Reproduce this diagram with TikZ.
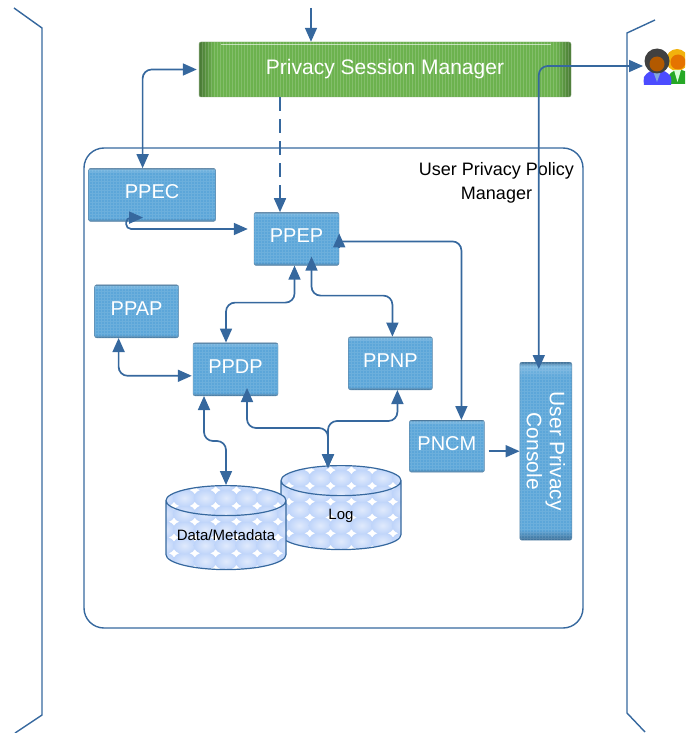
\documentclass[tikz,border=0pt]{standalone}
\usepackage{fontspec}
\setmainfont{Liberation Sans}
\usepackage{xcolor}
\usepackage{tikz}
\usetikzlibrary{positioning,arrows.meta,shapes.geometric}

\definecolor{linkblue}{RGB}{54,104,158}
\definecolor{boxblue}{RGB}{92,166,217}
\definecolor{boxdark}{RGB}{60,110,150}
\definecolor{boxlight}{RGB}{125,185,225}
\definecolor{psmgreen}{RGB}{108,178,78}
\definecolor{psmdark}{RGB}{72,120,52}
\definecolor{bubbleblue}{RGB}{190,212,250}
\definecolor{bubblelight}{RGB}{224,234,252}

\pgfdeclarehorizontalshading{psmshade}{100bp}{color(0bp)=(psmdark); color(25bp)=(psmdark);
  color(27bp)=(psmgreen); color(73bp)=(psmgreen); color(75bp)=(psmdark); color(100bp)=(psmdark)}
\pgfdeclareverticalshading{boxshade}{100bp}{color(0bp)=(boxdark); color(25bp)=(boxdark);
  color(28bp)=(boxblue); color(71bp)=(boxblue); color(74bp)=(boxlight); color(75bp)=(boxdark); color(100bp)=(boxdark)}

\tikzset{
  box/.style={rectangle,shade,shading=boxshade,draw=boxdark!80,rounded corners=2pt,
    text=white,font=\fontsize{20}{22}\selectfont,inner sep=0pt,align=center,
    text height=14pt,text depth=6pt,
    path picture={\draw[white,opacity=.10,step=3pt] (path picture bounding box.south west)
      grid (path picture bounding box.north east);}},
  psmbox/.style={rectangle,shade,shading=psmshade,draw=psmdark!70,rounded corners=2pt,
    text=white,font=\fontsize{21}{23}\selectfont,minimum width=372pt,minimum height=55pt,
    path picture={\foreach \k in {-62,...,62} \draw[white,opacity=.16,line width=.7pt]
      ([xshift=\k*3pt]path picture bounding box.south) -- ([xshift=\k*3pt]path picture bounding box.north);
      \draw[white,opacity=.6] ([shift={(22pt,-2pt)}]path picture bounding box.north west)
      -- ([shift={(-20pt,-2pt)}]path picture bounding box.north east);}},
  store/.style={cylinder,shape border rotate=90,aspect=1.2,draw=linkblue,line width=1.2pt,
    minimum width=120pt,minimum height=84pt,inner sep=0pt,font=\fontsize{15}{17}\selectfont,
    path picture={\fill[white] (path picture bounding box.south west) rectangle (path picture bounding box.north east);
      \foreach \i in {-3,...,3} \foreach \j in {-3,...,3}
      \shade[inner color=bubblelight,outer color=bubbleblue]
      ([shift={(\i*20.8pt,\j*15.8pt-2pt)}]path picture bounding box.center) ellipse (11.6 and 8.9);}},
  link/.style={draw=linkblue,line width=1.7pt,rounded corners=9pt},
  side/.style={draw=linkblue,line width=1.4pt}
}

\begin{document}
\begin{tikzpicture}[x=1pt,y=-1pt,>={Triangle[length=14pt,width=12pt]}]
  \useasboundingbox (0,0) rectangle (685,733);

  \draw[side] (14,8) -- (42,28) -- (42,715) -- (15,733);
  \draw[side] (655,20) -- (627,33) -- (627,713) -- (645,732);

  \node[draw=linkblue,line width=1.4pt,rounded corners=20pt,minimum width=499pt,minimum height=480pt] (upm) at (333.5,388) {};
  \node[inner sep=0pt,align=center,font=\fontsize{18}{24}\selectfont] (upmlabel) at (496.5,183) {User Privacy Policy\\Manager};

  \node[psmbox] (psm) at (385,69.5) {Privacy Session Manager\hspace{12pt}};
  \node[box,minimum width=85pt,minimum height=53pt,below=115pt of psm,xshift=-88.5pt] (ppep) {PPEP};
  \node[box,minimum width=85pt,minimum height=53pt,below=77pt of ppep,xshift=-61pt] (ppdp) {PPDP};
  \node[box,minimum width=84pt,minimum height=53pt,left=14pt of ppdp,yshift=58pt] (ppap) {PPAP};
  \node[box,minimum width=127pt,minimum height=53pt,above=63pt of ppap,xshift=15.5pt] (ppec) {PPEC};
  \node[box,minimum width=84pt,minimum height=53pt,right=70pt of ppdp,yshift=6pt] (ppnp) {PPNP};
  \node[box,minimum width=75pt,minimum height=52pt,below=30pt of ppnp,xshift=56.5pt] (pncm) {PNCM};
  \node[box,text height=,text depth=,minimum width=178pt,minimum height=52pt,right=35pt of pncm,anchor=south,yshift=-5pt,rotate=-90,
    font=\fontsize{21}{23}\selectfont] (upc) {User Privacy\\Console};

  \node[store,below=69pt of ppdp,xshift=105.5pt] (log) {Log};
  \node[store,below=89pt of ppdp,xshift=-9.5pt] (data) {\makebox[25pt]{Data/Metadata}};

  % users icon
  \begin{scope}
    \clip (640,40) rectangle (685,90);
    \fill[green!60!black!85] (668,84) -- (668,77) to[bend left=30] (678,70) to[bend left=30] (692,77) -- (692,84) -- cycle;
    \fill[orange!50!yellow!80!brown] (677,60) circle (11);
    \fill[orange!90!black] (678,62) circle (7.5);
    \fill[white!85!green] (674,70) -- (681,70) -- (677.5,82) -- cycle;
    \fill[blue!70!white] (644,85) to[bend left=10] (644,77) to[bend left=30] (657,70) to[bend left=30] (671,77) to[bend left=10] (671,85) -- cycle;
    \fill[cyan!50!blue!50] (653,71) -- (661,71) -- (657,82) -- cycle;
    \fill[black!75] (657,61) circle (12.5);
    \fill[orange!70!black] (657,64) circle (7.5);
  \end{scope}
  \coordinate (users) at (643,66);
  \coordinate (topin) at (311,8);

  \draw[link,->] (topin) -- (topin |- psm.north);
  \draw[link,<->] ([xshift=-2pt]psm.west) -| ([xshift=-9.5pt]ppec.north);
  \draw[link,->,dash pattern=on 14pt off 8pt] ([xshift=-105pt]psm.south) -- ([xshift=-16.5pt]ppep.north);
  \draw[link,<->] ([shift={(-7pt,-7pt)}]upc.west) |- (users);
  \draw[link,rounded corners=5pt,<->] ([shift={(-9pt,4pt)}]ppec.south) -- ++(-17,0) |- ([xshift=-6pt]ppep.west |- 0,229);
  \draw[link,->] ([yshift=-2.5pt]ppep.east) -| ([xshift=14.5pt]pncm.north);
  \draw[link,->] ([yshift=-9pt]ppep.east) -- ([yshift=5.5pt]ppep.east);
  \draw[link,<->] ([xshift=-2pt]ppep.south) -- ++(0,37) -| ([xshift=-9.5pt]ppdp.north);
  \draw[link,<->] ([xshift=15pt,yshift=9pt]ppep.south) -- ++(0,39) -| ([xshift=2pt]ppnp.north);
  \draw[link,<->] ([xshift=-18pt]ppap.south) |- ([shift={(-1pt,-6.5pt)}]ppdp.west);
  \draw[link,<->] ([xshift=-31.5pt]ppdp.south) -- ++(0,45) -| (data.north);
  \draw[link,<->] ([xshift=11.5pt,yshift=8pt]ppdp.south) -- ++(0,40) -| ([xshift=-13pt,yshift=-3pt]log.north);
  \draw[link,<->] ([xshift=7pt]ppnp.south) -- ++(0,31) -| ([xshift=-13pt,yshift=-3pt]log.north);
  \draw[link,->] ([xshift=4pt]pncm.east |- upc.south) -- (upc.south);
\end{tikzpicture}
\end{document}
